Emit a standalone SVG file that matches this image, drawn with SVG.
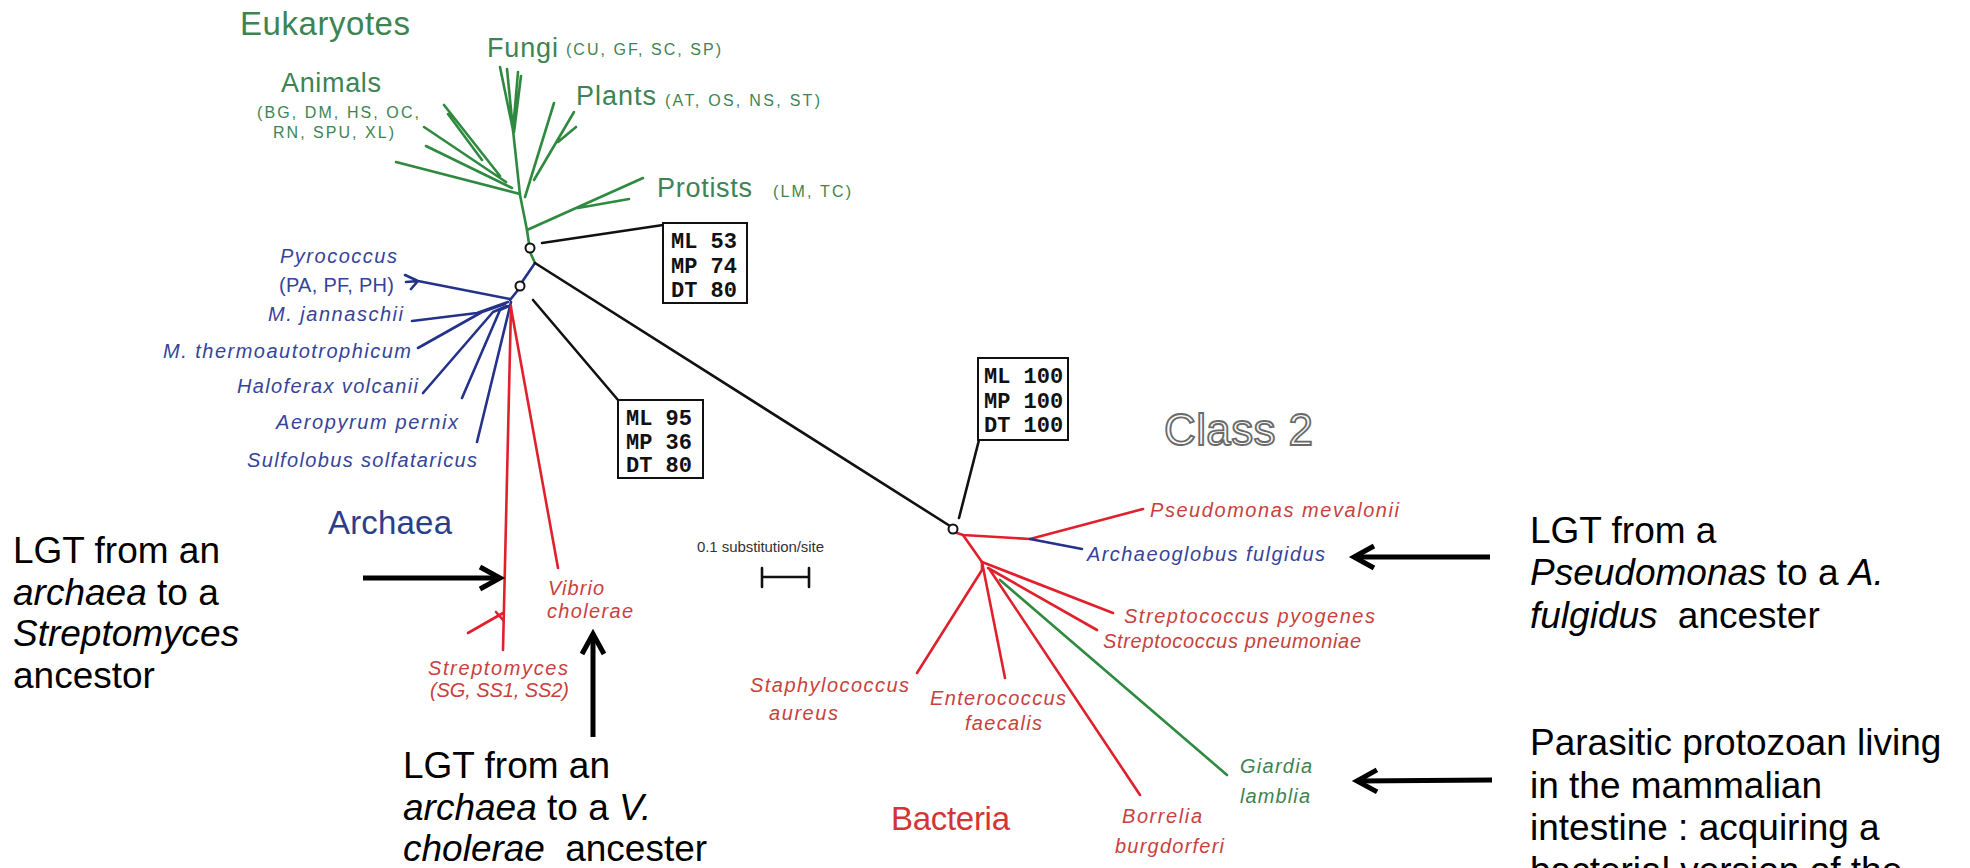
<svg xmlns="http://www.w3.org/2000/svg" width="1970" height="868" viewBox="0 0 1970 868">
<defs>
<style>
.br{fill:none;stroke-width:2.6;stroke-linecap:round;stroke-linejoin:round}
.g{stroke:#2f8a40}.b{stroke:#24328c}.r{stroke:#e0202c}.k{stroke:#111}
.t{font-family:"Liberation Sans",Arial,sans-serif}
.it{font-style:italic}
.gt{fill:#3d8452}.bt{fill:#35449a}.rt{fill:#c9413d}
.sp{font-size:20px}
.big{font-size:33px}
.mid{font-size:27px}
.sm{font-size:16px}
.mono{font-family:"Liberation Mono","DejaVu Sans Mono",monospace;font-weight:bold;font-size:22px;fill:#111}
.box{fill:#fff;stroke:#111;stroke-width:2}
.ann{font-family:"Liberation Sans",Arial,sans-serif;font-size:37px;fill:#000}
.arr{fill:none;stroke:#000;stroke-width:5}
</style>
<marker id="chev" markerUnits="userSpaceOnUse" markerWidth="40" markerHeight="40" viewBox="-30 -20 40 40" refX="0" refY="0" orient="auto" overflow="visible">
<path d="M-20,-11 L0,0 L-20,11" fill="none" stroke="#000" stroke-width="5"/>
</marker>
</defs>
<rect width="1970" height="868" fill="#fff"/>

<g id="connectors">
<path class="br g" d="M529,244 L527,230 L520,195 L513,130"/>
<path class="br g" d="M527,230 L643,178 M578,208 L629,199"/>
<path class="br g" d="M520,194 L396,162 M512,188 L426,146 M506,182 L424,127 M500,176 L444,105 M482,160 L448,114"/>
<path class="br g" d="M513,130 L500,67 M513,130 L507,69 M513,130 L518,72 M514,132 L521,76"/>
<path class="br g" d="M525,197 L554,103 M534,180 L574,112 M558,142 L576,127"/>
<path class="br g" d="M530,252 L535,263"/>
<path class="br b" d="M535,263 L522,282 M518,290 L510,300"/>
<path class="br b" d="M510,299 L418,281 L405,275 M418,281 L411,289 M418,281 L406,282"/>
<path class="br b" d="M508,302 L477,313 L412,321"/>
<path class="br b" d="M505,304 L482,312 L418,348"/>
<path class="br b" d="M507,306 L493,312 L423,393"/>
<path class="br b" d="M509,306 L500,310 L462,398"/>
<path class="br b" d="M511,302 L477,442"/>
<path class="br r" d="M511,306 L503,650"/>
<path class="br r" d="M511,308 L558,568"/>
<path class="br r" d="M503,613 L468,633 M496,612 L503,620"/>
<path class="br k" d="M535,263 L950,526"/>
<path class="br k" d="M542,243 L663,225"/>
<path class="br k" d="M533,300 L618,400"/>
<path class="br k" d="M959,518 L979,440"/>
<path class="br r" d="M957,533 L963,535 L1030,539 L1143,509"/>
<path class="br b" d="M1030,539 L1082,549"/>
<path class="br r" d="M963,535 L982,562 L982,570 L917,673"/>
<path class="br r" d="M982,562 L1005,678"/>
<path class="br r" d="M982,562 L1113,613"/>
<path class="br r" d="M988,568 L1097,630"/>
<path class="br r" d="M990,570 L1140,795"/>
<path class="br g" d="M1000,580 L1227,775"/>
<path class="br k" d="M762,577 L809,577 M762,568 L762,587 M809,568 L809,587" stroke-width="2.2"/>
<path class="arr" d="M363,578 L500,578" marker-end="url(#chev)"/>
<path class="arr" d="M593,737 L593,634" marker-end="url(#chev)"/>
<path class="arr" d="M1490,557 L1354,557" marker-end="url(#chev)"/>
<path class="arr" d="M1492,780 L1357,781" marker-end="url(#chev)"/>
</g>

<g id="node-circles">
<circle cx="530" cy="248" r="4.5" fill="#fff" stroke="#111" stroke-width="2"/>
<circle cx="520" cy="286" r="4.5" fill="#fff" stroke="#111" stroke-width="2"/>
<circle cx="953" cy="529" r="4.5" fill="#fff" stroke="#111" stroke-width="2"/>
</g>

<g id="eukaryotes">
<text class="t gt big" x="240" y="35" textLength="170">Eukaryotes</text>
<text class="t gt mid" x="487" y="57" textLength="71">Fungi</text>
<text class="t gt sm" x="566" y="55" textLength="155">(CU, GF, SC, SP)</text>
<text class="t gt mid" x="281" y="92" textLength="100">Animals</text>
<text class="t gt sm" x="257" y="118" textLength="162" font-size="17">(BG, DM, HS, OC,</text>
<text class="t gt sm" x="273" y="138" textLength="121" font-size="17">RN, SPU, XL)</text>
<text class="t gt mid" x="576" y="105" textLength="80">Plants</text>
<text class="t gt sm" x="665" y="106" textLength="155">(AT, OS, NS, ST)</text>
<text class="t gt mid" x="657" y="197" textLength="95">Protists</text>
<text class="t gt sm" x="773" y="197" textLength="78">(LM, TC)</text>
</g>

<g id="support-1">
<rect class="box" x="663" y="223" width="84" height="80"/>
<text class="mono" x="671" y="248">ML 53</text>
<text class="mono" x="671" y="273">MP 74</text>
<text class="mono" x="671" y="297">DT 80</text>
</g>
<g id="support-2">
<rect class="box" x="618" y="400" width="85" height="78"/>
<text class="mono" x="626" y="425">ML 95</text>
<text class="mono" x="626" y="449">MP 36</text>
<text class="mono" x="626" y="472">DT 80</text>
</g>
<g id="support-3">
<rect class="box" x="978" y="358" width="90" height="82"/>
<text class="mono" x="984" y="383">ML 100</text>
<text class="mono" x="984" y="408">MP 100</text>
<text class="mono" x="984" y="432">DT 100</text>
</g>

<g id="archaea">
<text class="t it bt sp" x="280" y="263" textLength="117">Pyrococcus</text>
<text class="t bt sp" x="279" y="292" textLength="115" font-size="19">(PA, PF, PH)</text>
<text class="t it bt sp" x="268" y="321" textLength="135">M. jannaschii</text>
<text class="t it bt sp" x="163" y="358" textLength="248">M. thermoautotrophicum</text>
<text class="t it bt sp" x="237" y="393" textLength="181">Haloferax volcanii</text>
<text class="t it bt sp" x="276" y="429" textLength="182">Aeropyrum pernix</text>
<text class="t it bt sp" x="247" y="467" textLength="230">Sulfolobus solfataricus</text>
<text class="t big" x="328" y="534" fill="#2c3d8c" textLength="124">Archaea</text>
</g>

<g id="streptomyces-vibrio">
<text class="t it rt sp" x="548" y="595" textLength="56">Vibrio</text>
<text class="t it rt sp" x="547" y="618" textLength="86">cholerae</text>
<text class="t it rt sp" x="428" y="675" textLength="140">Streptomyces</text>
<text class="t it rt sp" x="430" y="697" textLength="139">(SG, SS1, SS2)</text>
</g>

<g id="scale">
<text class="t" x="697" y="552" font-size="15" fill="#333" textLength="127">0.1 substitution/site</text>
</g>

<g id="class2">
<text class="t" x="1164" y="445" font-size="44" fill="#fafafa" stroke="#6a6a6a" stroke-width="1.8" textLength="149">Class 2</text>
</g>

<g id="bacteria">
<text class="t it rt sp" x="1150" y="517" textLength="249">Pseudomonas mevalonii</text>
<text class="t it bt sp" x="1087" y="561" textLength="238">Archaeoglobus fulgidus</text>
<text class="t it rt sp" x="1124" y="623" textLength="251">Streptococcus pyogenes</text>
<text class="t it rt sp" x="1103" y="648" textLength="258">Streptococcus pneumoniae</text>
<text class="t it rt sp" x="750" y="692" textLength="159">Staphylococcus</text>
<text class="t it rt sp" x="769" y="720" textLength="69">aureus</text>
<text class="t it rt sp" x="930" y="705" textLength="136">Enterococcus</text>
<text class="t it rt sp" x="965" y="730" textLength="77">faecalis</text>
<text class="t it rt sp" x="1122" y="823" textLength="80">Borrelia</text>
<text class="t it rt sp" x="1115" y="853" textLength="109">burgdorferi</text>
<text class="t it gt sp" x="1240" y="773" textLength="72">Giardia</text>
<text class="t it gt sp" x="1240" y="803" textLength="70">lamblia</text>
<text class="t big" x="891" y="830" fill="#d33434" textLength="119">Bacteria</text>
</g>

<g id="note-streptomyces">
<text class="ann" x="13" y="563">LGT from an</text>
<text class="ann" x="13" y="605"><tspan font-style="italic">archaea</tspan> to a</text>
<text class="ann" x="13" y="646" font-style="italic">Streptomyces</text>
<text class="ann" x="13" y="688">ancestor</text>
</g>

<g id="note-vibrio">
<text class="ann" x="403" y="778">LGT from an</text>
<text class="ann" x="403" y="820"><tspan font-style="italic">archaea</tspan> to a <tspan font-style="italic">V.</tspan></text>
<text class="ann" x="403" y="861"><tspan font-style="italic">cholerae</tspan><tspan dx="10"> ancester</tspan></text>
</g>

<g id="note-archaeoglobus">
<text class="ann" x="1530" y="543">LGT from a</text>
<text class="ann" x="1530" y="585"><tspan font-style="italic">Pseudomonas</tspan> to a <tspan font-style="italic">A.</tspan></text>
<text class="ann" x="1530" y="628"><tspan font-style="italic">fulgidus</tspan><tspan dx="10"> ancester</tspan></text>
</g>

<g id="note-giardia">
<text class="ann" x="1530" y="755">Parasitic protozoan living</text>
<text class="ann" x="1530" y="798">in the mammalian</text>
<text class="ann" x="1530" y="840">intestine : acquiring a</text>
<text class="ann" x="1530" y="883">bacterial version of the</text>
</g>
</svg>
